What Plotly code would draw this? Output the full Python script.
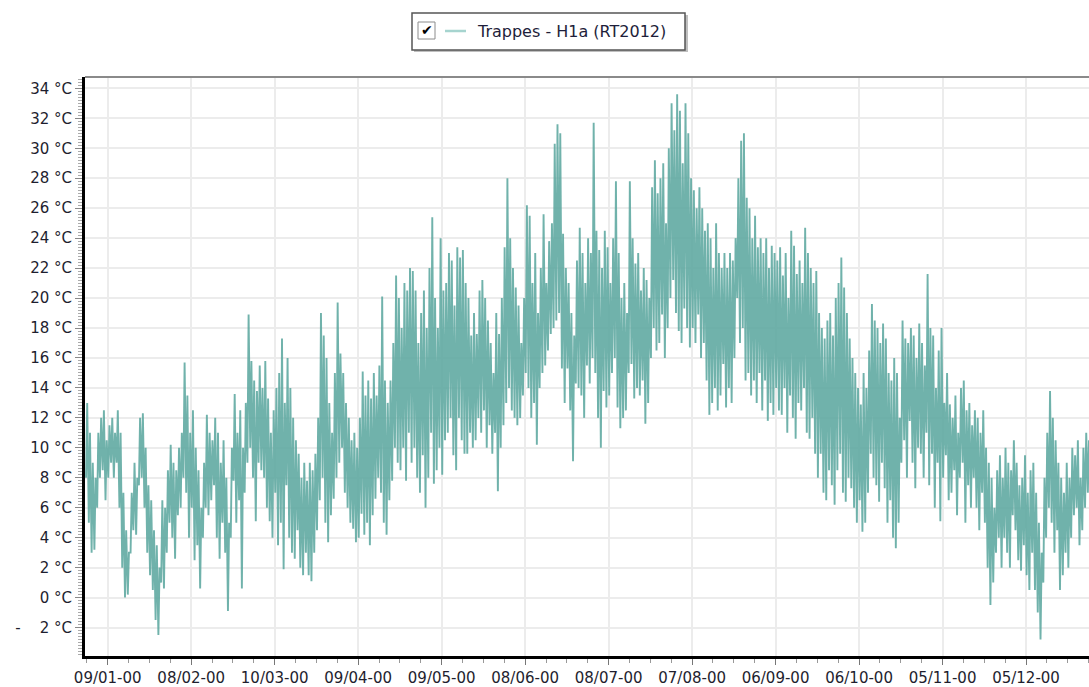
import numpy as np
import pandas as pd
import plotly.graph_objects as go

# ---- data: daily max / min temperatures (°C), from 1 Jan ----
tmax = [
    13, 11, 9, 8, 11, 12, 12.5, 10.5, 11.5, 12,
    11, 12.5, 11, 7, 4.5, 3, 7, 9, 8, 12,
    12.3, 10, 7.5, 6.5, 4.5, 3.5, 2, 6.5, 6, 8.5,
    10.2, 9, 8.5, 10, 11, 15.7, 13.5, 11, 12.5, 10,
    8.5, 6, 9, 12.2, 11, 10.5, 12, 11, 9, 10.5,
    8, 5, 10, 13.6, 11, 12.5, 10, 13, 18.9, 15.8,
    14.5, 13.8, 15.5, 14, 15.8, 13.3, 11, 12.5, 14, 15,
    17.3, 13, 16, 14, 12, 10.5, 9.6, 8, 9, 7.8,
    9, 8.5, 9.6, 12, 19, 17.5, 16, 13, 11, 15,
    19.7, 16.3, 15, 13, 12, 10.5, 11, 10, 12, 15.1,
    13.5, 14.5, 13.3, 15, 13.5, 15.5, 20.1, 14.5, 13, 14.5,
    17, 21.5, 20, 18, 21, 20.5, 22, 21.8, 20.5, 17,
    19, 20.5, 18, 22, 25.4, 20, 18, 24, 20.5, 21,
    23, 22.5, 19.5, 23.4, 22.7, 23.2, 21, 20, 17.5, 19,
    17.6, 20.5, 21.2, 20, 18.5, 17, 15, 19, 17.6, 20,
    23.4, 28.0, 24, 22, 20.7, 19.5, 17, 20, 26.2, 25.5,
    21, 23, 19, 22, 25.6, 21, 23.8, 25, 30.3, 31.6,
    31, 24.3, 22, 21, 19, 17.5, 22.5, 24.7, 23, 21,
    24, 23, 31.7, 24.5, 23.2, 22, 24.5, 23.4, 21, 24,
    27.8, 23, 20, 21, 19, 27.8, 24, 22.3, 23, 20.5,
    22, 21.2, 20, 27.4, 29.2, 27, 28, 29, 25, 30,
    33, 31.2, 33.6, 32.5, 29, 33, 31, 28, 27.2, 26,
    27.4, 26, 24.5, 25, 24, 22, 25, 23, 22, 23,
    22, 23, 22.5, 24, 28, 30.5, 31, 26.7, 26, 24,
    25.5, 23.4, 24, 23, 24, 22, 23.5, 23, 22.5, 23.4,
    21.5, 23, 20, 24.5, 23.5, 21.6, 22.5, 21, 24.7, 23,
    22, 21, 21.8, 19, 18, 17.3, 18.5, 19, 17.5, 20,
    21, 22.7, 20.7, 19, 17.3, 16, 15, 14, 12.9, 15,
    14, 16.5, 19.6, 18.5, 18, 17, 18.3, 17.3, 15, 14.5,
    16, 15, 12, 18.5, 17.3, 17, 18, 17.5, 16, 18.3,
    17, 15.5, 21.6, 18, 17.5, 14, 16.5, 18, 13, 15,
    12.9, 12, 13.5, 11, 14, 14.5, 12.5, 13, 11.5, 12.5,
    12, 11, 12.5, 10, 9, 8, 6, 8.5, 9.5, 8,
    10, 9, 8.5, 10.5, 9, 7.5, 8, 9.5, 7, 8.5,
    9, 7, 5, 3, 8, 11, 13.8, 12, 10.5, 9,
    8, 7, 9, 8, 10, 9.5, 10.5, 8, 10, 11,
    10.5, 9,
]
tmin = [
    8, 5, 3, 3.2, 6, 8, 8.5, 6.5, 8, 9,
    8, 9, 6, 2, 0, 0.2, 3, 4.5, 4.2, 7.5,
    8, 6, 3, 1.5, 0.5, -1.5, -2.5, 1, 0.6, 3,
    5, 4, 2.6, 5.5, 6, 8, 7, 4, 6, 2.5,
    3.5, 0.6, 4, 6, 5.5, 6.5, 7.5, 4, 2.6, 5,
    3, -0.9, 4, 7.8, 5, 6.5, 0.6, 7, 9, 10,
    8, 5.1, 9, 8.5, 8, 6, 5.1, 4, 7, 3.5,
    5, 1.9, 7.5, 4, 3, 2.6, 4.5, 2, 1.5, 3,
    1.5, 1.1, 3, 4.5, 6.5, 8, 5, 3.7, 5.5, 6.6,
    8, 9, 10, 7, 6, 5, 4.6, 3.7, 4, 5.6,
    4.2, 5, 3.5, 5.5, 6.6, 8, 7, 5, 4.2, 6.5,
    7.8, 10, 9, 8.5, 10, 7.8, 11, 9, 10, 8,
    7, 9.5, 6, 8, 11, 7.6, 8.5, 10, 8.2, 10.5,
    11, 12, 9.5, 8.5, 12, 10.5, 9.6, 9.6, 11, 10,
    10.5, 12, 11, 12.5, 10, 11.5, 9.6, 11, 7.1, 10,
    11.5, 13, 14, 12.5, 12, 11.5, 12, 13.5, 15, 14,
    12, 13, 10.2, 14, 15, 15.5, 16.5, 17.6, 18, 18.5,
    19, 15.3, 13, 15.3, 12.5, 9.1, 14.3, 14, 13.5, 12,
    15.5, 14.3, 16, 15, 12, 10, 13.8, 12.7, 13.5, 15,
    16, 12.7, 11.3, 12, 12.5, 15, 15.6, 13.3, 14, 13.5,
    14.5, 11.6, 13, 16, 18, 16.5, 17, 18.9, 16, 18,
    20, 21.2, 19, 17.8, 17, 19.3, 18, 16.7, 18, 17,
    18.9, 16, 17, 14.5, 12.2, 13, 14, 12.5, 13.5, 15.6,
    12.7, 14, 13, 16, 20, 17, 18, 14.5, 15, 13.5,
    14.5, 13, 15, 12.5, 14.5, 11.8, 13, 12.2, 14, 12.5,
    12.2, 14, 11, 13.5, 12, 10.6, 13, 12.5, 14, 11,
    10.6, 12, 9.6, 8, 9.6, 7, 6.5, 8.5, 7.5, 6.2,
    8.5, 9.6, 7, 6.4, 8, 7.3, 6, 5, 6.5, 4.4,
    5, 7, 9.6, 8, 7.5, 6.4, 9, 7.3, 5, 6.5,
    4, 3.3, 5, 9, 10.5, 8, 11.8, 9, 7.3, 10,
    9.6, 8, 11, 7.5, 9.6, 6, 9, 5.1, 8, 9.5,
    6.5, 7, 8.5, 5.5, 8, 9, 5, 7.5, 6, 8,
    6, 4.5, 7, 5, 2, -0.5, 1, 3, 4, 2,
    4, 3, 2, 5.5, 4.5, 2.5, 1.8, 3.5, 1.5, 0.5,
    3, 0.5, -1, -2.8, 1, 4, 6, 5, 3, 4.5,
    0.5, 1.5, 3, 2, 4, 5.5, 6, 3.5, 4.5, 6,
    7, 6,
]
y_ticks = list(range(-2, 35, 2))
y_labels = [("-\u00a0\u00a0\u00a0\u00a02 °C" if v < 0 else f"{v} °C") for v in y_ticks]
series_name = "Trappes - H1a (RT2012)"

# ---- build time series (min early morning, max mid-afternoon) ----
n = min(len(tmax), len(tmin))
day0 = pd.Timestamp("2001-01-01")
times, temps = [], []
for d in range(n):
    times.append(day0 + pd.Timedelta(days=d, hours=5))
    temps.append(tmin[d])
    times.append(day0 + pd.Timedelta(days=d, hours=15))
    temps.append(tmax[d])

W, H = 1089, 687
L, R, T, B = 85, 1089, 77, 656  # plot area in pixels

def px(x):
    return (x - L) / (R - L)

def py(y):
    return (B - y) / (B - T)

font_axis = dict(family="DejaVu Sans", size=15, color="#1e1e2e")

fig = go.Figure()
fig.add_trace(go.Scatter(
    x=times, y=temps, mode="lines",
    line=dict(color="rgba(92,167,159,0.88)", width=1.9),
    name=series_name, showlegend=False, hoverinfo="skip",
))

fig.update_layout(
    width=W, height=H,
    margin=dict(l=L, r=W - R, t=T, b=H - B, pad=0, autoexpand=False),
    paper_bgcolor="white", plot_bgcolor="white",
    font=font_axis,
    xaxis=dict(
        type="date", automargin=False,
        range=["2000-12-31 20:00", "2001-12-27 15:00"],
        tick0="2001-01-09", dtick=30 * 86400000,
        tickformat="%d/%m-%H",
        showgrid=True, gridcolor="#ececec", gridwidth=2,
        showline=True, linecolor="black", linewidth=3,
        ticks="outside", ticklen=6, tickcolor="#777", tickwidth=1,
        minor=dict(tick0="2001-01-01 12:00", dtick=7.5 * 86400000,
                   ticks="outside", ticklen=4, tickcolor="#999", showgrid=False),
        tickfont=font_axis, zeroline=False,
    ),
    yaxis=dict(
        automargin=False,
        range=[-3.9, 34.76],
        tickvals=y_ticks, ticktext=y_labels,
        showgrid=True, gridcolor="#ececec", gridwidth=2,
        showline=True, linecolor="black", linewidth=3,
        ticks="outside", ticklen=7, tickcolor="#888", tickwidth=1,
        minor=dict(dtick=0.2, tick0=0, ticks="outside", ticklen=4,
                   tickcolor="#aaa", showgrid=False),
        tickfont=font_axis, zeroline=False,
    ),
)

shapes = []
# top border of plot
shapes.append(dict(type="line", xref="paper", yref="paper", x0=0, x1=1.05,
                   y0=py(77), y1=py(77), line=dict(color="#8a8a8a", width=2)))
# legend shadow and box
shapes.append(dict(type="rect", xref="paper", yref="paper",
                   x0=px(414), x1=px(688), y0=py(52), y1=py(15),
                   line=dict(width=0), fillcolor="rgba(0,0,0,0.25)"))
shapes.append(dict(type="rect", xref="paper", yref="paper",
                   x0=px(412), x1=px(685), y0=py(50), y1=py(13),
                   line=dict(color="#555555", width=1.5), fillcolor="white"))
# checkbox
shapes.append(dict(type="rect", xref="paper", yref="paper",
                   x0=px(418), x1=px(435), y0=py(39), y1=py(22),
                   line=dict(color="#8c8c8c", width=1), fillcolor="white"))
# legend line sample
shapes.append(dict(type="line", xref="paper", yref="paper",
                   x0=px(445), x1=px(466), y0=py(31), y1=py(31),
                   line=dict(color="#a6d4cf", width=2.5)))
fig.update_layout(shapes=shapes)

fig.add_annotation(x=px(426.5), y=py(30.5), xref="paper", yref="paper",
                   text="✔", showarrow=False, xanchor="center", yanchor="middle",
                   font=dict(family="DejaVu Sans", size=14, color="black"))
fig.add_annotation(x=px(475), y=py(31), xref="paper", yref="paper",
                   text=series_name, showarrow=False, xanchor="left", yanchor="middle",
                   font=dict(family="DejaVu Sans", size=16, color="#1e1e3a"))

fig.write_html("out.html", config={"displayModeBar": False},
               post_script="document.body.style.margin='0';")
